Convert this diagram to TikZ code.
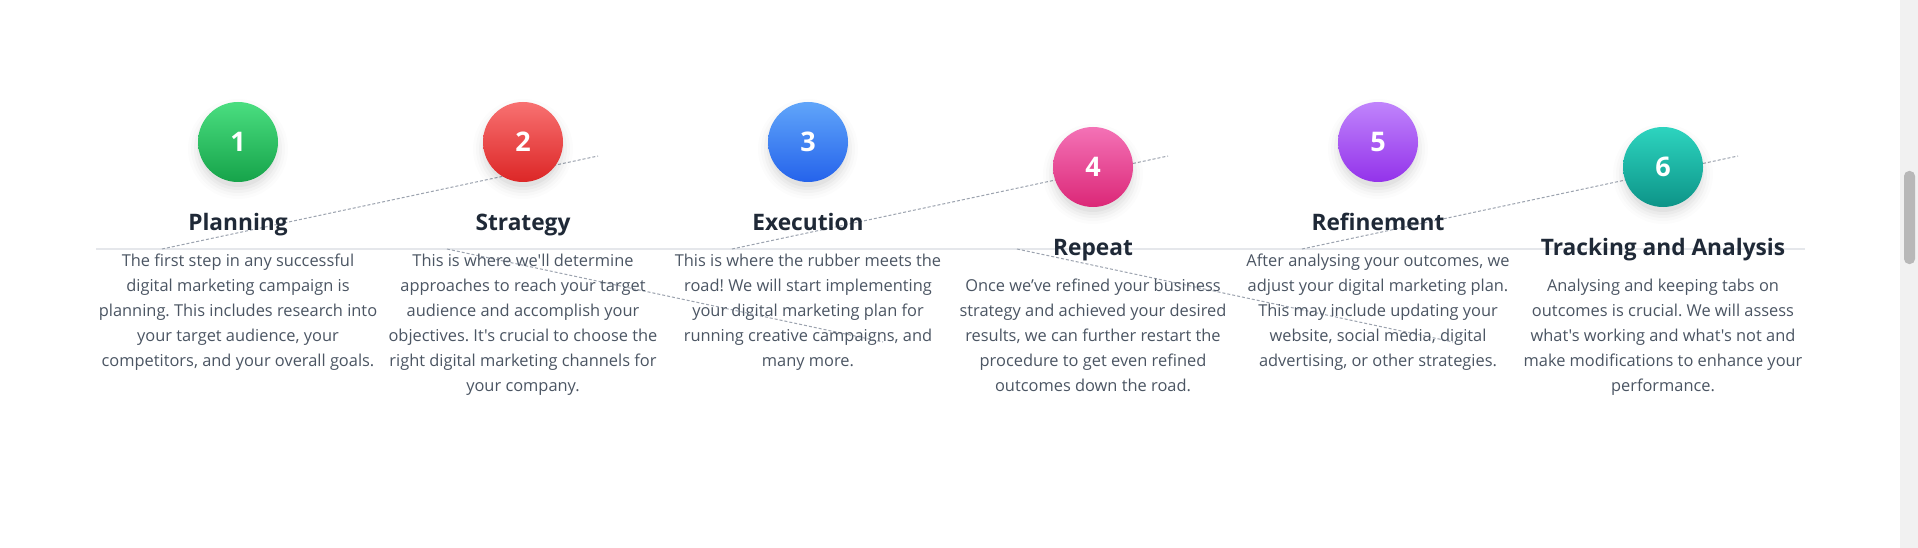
\documentclass[tikz,border=0pt]{standalone}
\usepackage{fontspec}
\newfontfamily\bodyfam{Open Sans}
\usetikzlibrary{calc}
\frenchspacing
\definecolor{titlegray}{HTML}{1F2937}
\definecolor{bodygray}{HTML}{4B5563}
\definecolor{linkgray}{HTML}{9CA3AF}
\definecolor{rulegray}{HTML}{E5E7EB}
\definecolor{scrolltrack}{HTML}{F1F1F1}
\definecolor{scrollthumb}{HTML}{B8B8B8}
\definecolor{greenA}{HTML}{4ADE80}\definecolor{greenB}{HTML}{16A34A}
\definecolor{redA}{HTML}{F87171}\definecolor{redB}{HTML}{DC2626}
\definecolor{blueA}{HTML}{60A5FA}\definecolor{blueB}{HTML}{2563EB}
\definecolor{pinkA}{HTML}{F472B6}\definecolor{pinkB}{HTML}{DB2777}
\definecolor{purpleA}{HTML}{C084FC}\definecolor{purpleB}{HTML}{9333EA}
\definecolor{tealA}{HTML}{2DD4BF}\definecolor{tealB}{HTML}{0D9488}
\newcommand\mynumfont{\bodyfam\bfseries\fontsize{27}{27}\selectfont}
\newcommand\mytitlefont{\bodyfam\bfseries\fontsize{22.7}{26}\selectfont}
\newcommand\mydescfont{\bodyfam\frenchspacing\fontsize{16.4}{25.1}\selectfont}
\newcommand\fs{\rule{0pt}{16pt}}
\newcommand\softshadow[2]{%
  \foreach \r/\o in {50/0.010,47/0.015,44/0.022,41/0.028,38/0.034}{%
    \fill[black,opacity=\o] (#1,#2+7) circle[radius=\r pt];}}
\begin{document}
\begin{tikzpicture}[x=1pt,y=-1pt,
  stepnum/.style={circle, minimum size=80pt, inner sep=0pt, text=white, font=\mynumfont, shading angle=45},
  steptitle/.style={anchor=base, inner sep=0pt, text=titlegray, font=\mytitlefont},
  stepdesc/.style={anchor=north, inner sep=0pt, align=center, text=bodygray, font=\mydescfont},
  linkline/.style={draw=linkgray, line width=1pt, dash pattern=on 3pt off 2pt},
  ruleline/.style={draw=rulegray, line width=2pt}]
\fill[white] (0,0) rectangle (1918,548);
\useasboundingbox (0,0) rectangle (1918,548);
% scrollbar
\fill[scrolltrack] (1900,0) rectangle (1918,548);
\fill[scrollthumb, rounded corners=5pt] (1904,171) rectangle (1915,264);
% horizontal rule
\coordinate (ruleL) at (96,248.5);
\coordinate (ruleR) at (1805,248.5);
\draw[ruleline] (ruleL) -- (ruleR);
% dashed links
\coordinate (s1) at (162,249);  \coordinate (e1) at (598,156);
\coordinate (s2) at (447,249);  \coordinate (e2) at (883,342);
\coordinate (s3) at (732,249);  \coordinate (e3) at (1168,156);
\coordinate (s4) at (1017,249); \coordinate (e4) at (1453,342);
\coordinate (s5) at (1302,249); \coordinate (e5) at (1738,156);
\draw[linkline] (s1) -- (e1);
\draw[linkline] (s2) -- (e2);
\draw[linkline] (s3) -- (e3);
\draw[linkline] (s4) -- (e4);
\draw[linkline] (s5) -- (e5);
% shadows
\softshadow{238}{142}
\softshadow{523}{142}
\softshadow{808}{142}
\softshadow{1093}{167}
\softshadow{1378}{142}
\softshadow{1663}{167}
% circles
\node[stepnum, top color=greenA, bottom color=greenB] (c1) at (238,142) {1};
\node[stepnum, top color=redA, bottom color=redB] (c2) at (523,142) {2};
\node[stepnum, top color=blueA, bottom color=blueB] (c3) at (808,142) {3};
\node[stepnum, top color=pinkA, bottom color=pinkB] (c4) at (1093,167) {4};
\node[stepnum, top color=purpleA, bottom color=purpleB] (c5) at (1378,142) {5};
\node[stepnum, top color=tealA, bottom color=tealB] (c6) at (1663,167) {6};
% titles
\node[steptitle] (t1) at (238,230) {Planning};
\node[steptitle] (t2) at (523,230) {Strategy};
\node[steptitle] (t3) at (808,230) {Execution};
\node[steptitle] (t4) at (1093,255) {Repeat};
\node[steptitle] (t5) at (1378,230) {Refinement};
\node[steptitle] (t6) at (1663,255) {Tracking and Analysis};
% descriptions
\node[stepdesc] (d1) at (238,250) {\fs The first step in any successful\\digital marketing campaign is\\planning. This includes research into\\your target audience, your\\competitors, and your overall goals.};
\node[stepdesc] (d2) at (523,250) {\fs This is where we'll determine\\approaches to reach your target\\audience and accomplish your\\objectives. It's crucial to choose the\\right digital marketing channels for\\your company.};
\node[stepdesc] (d3) at (808,250) {\fs This is where the rubber meets the\\road! We will start implementing\\your digital marketing plan for\\running creative campaigns, and\\many more.};
\node[stepdesc] (d4) at (1093,275) {\fs Once we’ve refined your business\\strategy and achieved your desired\\results, we can further restart the\\procedure to get even refined\\outcomes down the road.};
\node[stepdesc] (d5) at (1378,250) {\fs After analysing your outcomes, we\\adjust your digital marketing plan.\\This may include updating your\\website, social media, digital\\advertising, or other strategies.};
\node[stepdesc] (d6) at (1663,275) {\fs Analysing and keeping tabs on\\outcomes is crucial. We will assess\\what's working and what's not and\\make modifications to enhance your\\performance.};
\end{tikzpicture}
\end{document}
